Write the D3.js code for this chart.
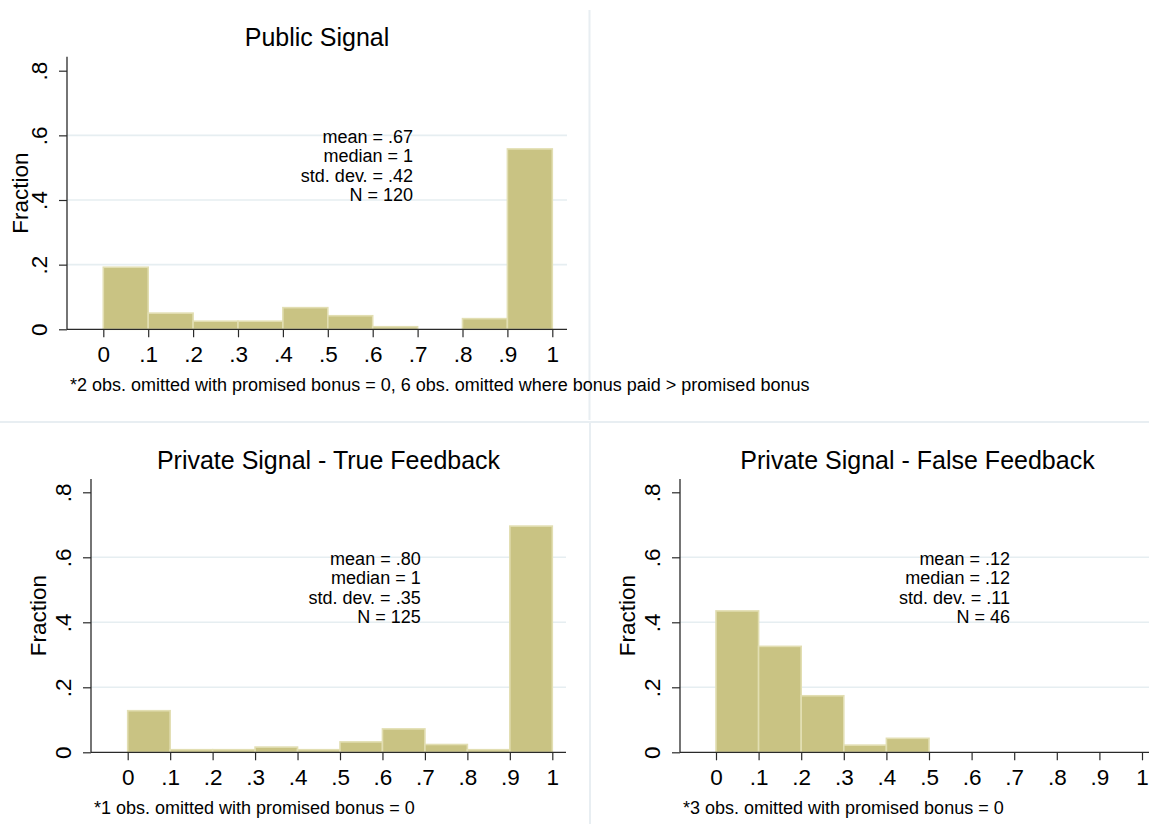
<!DOCTYPE html>
<html>
<head>
<meta charset="utf-8">
<script src="https://cdn.jsdelivr.net/npm/d3@7"></script>
<style>
  html, body { margin: 0; padding: 0; background: #ffffff; }
  svg { display: block; font-family: "Liberation Sans", Arial, Helvetica, sans-serif; }
</style>
</head>
<body>
<svg id="chart" width="1149" height="824"></svg>
<script>
// Histogram bins (left edges) and bin width
const binStarts = [0, 0.1, 0.2, 0.3, 0.4, 0.5, 0.6, 0.7, 0.8, 0.9];
const binWidth = 0.1;

// Fraction of observations in each bin
const publicFractions = [0.192, 0.05, 0.025, 0.025, 0.067, 0.042, 0.008, 0, 0.033, 0.558];
const trueFeedbackFractions = [0.128, 0.008, 0.008, 0.016, 0.008, 0.032, 0.072, 0.024, 0.008, 0.696];
const falseFeedbackFractions = [0.435, 0.326, 0.174, 0.022, 0.043, 0, 0, 0, 0, 0];

// Axis ticks
const xTickValues = [0, 0.1, 0.2, 0.3, 0.4, 0.5, 0.6, 0.7, 0.8, 0.9, 1];
const xTickLabels = ["0", ".1", ".2", ".3", ".4", ".5", ".6", ".7", ".8", ".9", "1"];
const yTickValues = [0, 0.2, 0.4, 0.6, 0.8];
const yTickLabels = ["0", ".2", ".4", ".6", ".8"];
const yGridValues = [0.2, 0.4, 0.6];

// Panel texts
const panelTitles = ["Public Signal", "Private Signal - True Feedback", "Private Signal - False Feedback"];
const publicStats = ["mean = .67", "median = 1", "std. dev. = .42", "N = 120"];
const trueFeedbackStats = ["mean = .80", "median = 1", "std. dev. = .35", "N = 125"];
const falseFeedbackStats = ["mean = .12", "median = .12", "std. dev. = .11", "N = 46"];
const panelNotes = [
  "*2 obs. omitted with promised bonus = 0, 6 obs. omitted where bonus paid > promised bonus",
  "*1 obs. omitted with promised bonus = 0",
  "*3 obs. omitted with promised bonus = 0"
];
const yAxisTitle = "Fraction";

const svg = d3.select("#chart");
const FONT = "\"Liberation Sans\", Arial, Helvetica, sans-serif";
const BAR_FILL = "#c9c383";
const BAR_EDGE = "#e2deb2";
const GRID = "#e6eef1";
const AXIS = "#2a2a2a";
const FRAME = "#e8eef2";

// Light frames separating the combined graphs
svg.append("line").attr("x1", 589.5).attr("x2", 589.5).attr("y1", 10).attr("y2", 420)
  .attr("stroke", FRAME).attr("stroke-width", 2);
svg.append("line").attr("x1", 0).attr("x2", 1149).attr("y1", 422).attr("y2", 422)
  .attr("stroke", FRAME).attr("stroke-width", 2);
svg.append("line").attr("x1", 590).attr("x2", 590).attr("y1", 423).attr("y2", 824)
  .attr("stroke", FRAME).attr("stroke-width", 2);

// Panel layouts: plot box edges and axis pixel ranges
const panels = [
  { title: panelTitles[0], values: publicFractions, stats: publicStats, note: panelNotes[0],
    axisX: 67, right: 567, top: 56.7, x0: 103.3, x1: 552.3, y0: 329.3, y08: 70.7, titleY: 45.5 },
  { title: panelTitles[1], values: trueFeedbackFractions, stats: trueFeedbackStats, note: panelNotes[1],
    axisX: 91, right: 566, top: 479, x0: 127.7, x1: 552.3, y0: 752.3, y08: 492.3, titleY: 469 },
  { title: panelTitles[2], values: falseFeedbackFractions, stats: falseFeedbackStats, note: panelNotes[2],
    axisX: 680, right: 1155, top: 479, x0: 716, x1: 1142, y0: 752.3, y08: 492.3, titleY: 469 }
];

panels.forEach(p => {
  const g = svg.append("g");
  const x = d3.scaleLinear().domain([0, 1]).range([p.x0, p.x1]);
  const y = d3.scaleLinear().domain([0, 0.8]).range([p.y0, p.y08]);

  // Horizontal gridlines
  g.append("g").selectAll("line").data(yGridValues).join("line")
    .attr("x1", p.axisX).attr("x2", p.right)
    .attr("y1", d => y(d)).attr("y2", d => y(d))
    .attr("stroke", GRID).attr("stroke-width", 1.6);

  // Histogram bars
  const bins = binStarts.map((b, i) => ({ start: b, value: p.values[i] })).filter(d => d.value > 0);
  g.append("g").selectAll("rect").data(bins).join("rect")
    .attr("x", d => x(d.start))
    .attr("width", d => x(d.start + binWidth) - x(d.start))
    .attr("y", d => y(d.value))
    .attr("height", d => y(0) - y(d.value))
    .attr("fill", BAR_FILL)
    .attr("stroke", BAR_EDGE)
    .attr("stroke-width", 1.6);

  // X axis
  const xAxis = d3.axisBottom(x).tickValues(xTickValues)
    .tickFormat((d, i) => xTickLabels[i]).tickSize(8).tickSizeOuter(0);
  const gx = g.append("g").attr("transform", `translate(0,${p.y0})`).call(xAxis);
  gx.select(".domain").remove();
  gx.selectAll(".tick line").attr("stroke", AXIS).attr("stroke-width", 1.2);
  gx.selectAll(".tick text")
    .attr("y", 33).attr("dy", 0)
    .attr("fill", "#000").style("font-size", "22.5px").style("font-family", FONT);
  g.append("line").attr("x1", p.axisX).attr("x2", p.right).attr("y1", p.y0).attr("y2", p.y0)
    .attr("stroke", AXIS).attr("stroke-width", 1.3);

  // Y axis with rotated labels
  const yAxis = d3.axisLeft(y).tickValues(yTickValues)
    .tickFormat((d, i) => yTickLabels[i]).tickSize(8).tickSizeOuter(0);
  const gy = g.append("g").attr("transform", `translate(${p.axisX},0)`).call(yAxis);
  gy.select(".domain").remove();
  gy.selectAll(".tick line").attr("stroke", AXIS).attr("stroke-width", 1.2);
  gy.selectAll(".tick text")
    .attr("transform", "rotate(-90)")
    .attr("x", 0).attr("y", -20).attr("dy", 0)
    .attr("text-anchor", "middle")
    .attr("fill", "#000").style("font-size", "22.5px").style("font-family", FONT);
  g.append("line").attr("x1", p.axisX).attr("x2", p.axisX).attr("y1", p.top).attr("y2", p.y0)
    .attr("stroke", AXIS).attr("stroke-width", 1.3);

  // Y axis title
  const midY = (p.top + p.y0) / 2;
  const titleX = p === panels[0] ? p.axisX - 39 : p.axisX - 45;
  g.append("text")
    .attr("transform", `translate(${titleX},${midY}) rotate(-90)`)
    .attr("text-anchor", "middle")
    .style("font-size", "22.5px").style("font-family", FONT)
    .text(yAxisTitle);

  // Panel title
  g.append("text")
    .attr("x", (p.axisX + p.right) / 2).attr("y", p.titleY)
    .attr("text-anchor", "middle")
    .style("font-size", "25px").style("font-family", FONT)
    .text(p.title);

  // Summary statistics
  const st = g.append("text")
    .attr("text-anchor", "end")
    .style("font-size", "18px").style("font-family", FONT);
  p.stats.forEach((s, i) => {
    st.append("tspan").attr("x", x(0.69)).attr("y", y(0.577) + i * 19.4).text(s);
  });

  // Footnote
  g.append("text")
    .attr("x", p.axisX + 3).attr("y", p.y0 + 62)
    .style("font-size", "18px").style("font-family", FONT)
    .text(p.note);
});
</script>
</body>
</html>
